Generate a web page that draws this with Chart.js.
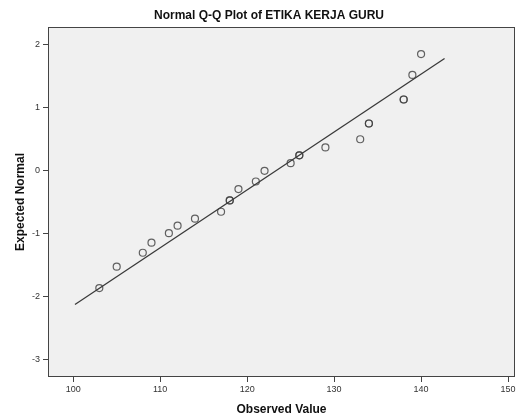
<!DOCTYPE html>
<html>
<head>
<meta charset="utf-8">
<script src="https://cdn.jsdelivr.net/npm/chart.js@4/dist/chart.umd.min.js"></script>
<style>
html,body{margin:0;padding:0;background:#fff;}
#wrap{width:522px;height:417px;}
</style>
</head>
<body>
<div id="wrap"><canvas id="c" width="522" height="417"></canvas></div>
<script>
const chartTitle = "Normal Q-Q Plot of ETIKA KERJA GURU";
const xLabel = "Observed Value";
const yLabel = "Expected Normal";
// observed values (ties repeated)
const observed = [103,105,108,109,111,112,114,117,118,118,119,121,122,125,126,126,129,133,134,134,138,138,139,140];
const expected = [-1.86,-1.52,-1.30,-1.14,-0.99,-0.87,-0.76,-0.65,-0.47,-0.47,-0.29,-0.17,0.00,0.12,0.245,0.245,0.37,0.50,0.75,0.75,1.13,1.13,1.52,1.85];
const lineX = [100.2, 142.7];
const lineY = [-2.12, 1.78];
const xTicks = [100,110,120,130,140,150];
const yTicks = [-3,-2,-1,0,1,2];

const pts = observed.map((v,i)=>({x:v,y:expected[i]}));
const linePts = lineX.map((v,i)=>({x:v,y:lineY[i]}));

const frame = {
  id:'frame',
  beforeDraw(chart){
    const {ctx,chartArea:a}=chart;
    ctx.save();
    ctx.fillStyle='#f0f0f0';
    ctx.fillRect(a.left,a.top,a.right-a.left,a.bottom-a.top);
    ctx.restore();
  },
  afterDraw(chart){
    const {ctx,chartArea:a}=chart;
    ctx.save();
    ctx.strokeStyle='#444';
    ctx.lineWidth=1;
    ctx.strokeRect(a.left+0.5,a.top+0.5,a.right-a.left-1,a.bottom-a.top-1);
    ctx.fillStyle='#111';
    ctx.font='bold 12px "Liberation Sans", Arial, sans-serif';
    ctx.textAlign='center';
    ctx.textBaseline='middle';
    ctx.fillText(chartTitle,269,16);
    ctx.restore();
  }
};

new Chart(document.getElementById('c'),{
  type:'scatter',
  data:{datasets:[
    {type:'line',data:linePts,borderColor:'#3a3a3a',borderWidth:1.3,pointRadius:0,fill:false,order:1},
    {data:pts,pointRadius:3.5,pointBorderColor:'rgba(60,60,60,0.8)',pointBackgroundColor:'rgba(0,0,0,0)',pointBorderWidth:1.2,order:0}
  ]},
  plugins:[frame],
  options:{
    responsive:false,
    animation:false,
    events:[],
    layout:{padding:{top:27,right:7,left:0,bottom:0}},
    plugins:{legend:{display:false},tooltip:{enabled:false},title:{display:false}},
    scales:{
      x:{type:'linear',min:97.1,max:150.8,
        afterBuildTicks(s){s.ticks=xTicks.map(v=>({value:v}));},
        afterFit(s){s.height=40;},
        grid:{drawOnChartArea:false,drawTicks:true,tickLength:5,color:'#444'},
        border:{display:false},
        ticks:{color:'#333',font:{family:'"Liberation Sans", Arial, sans-serif',size:9},padding:2,maxRotation:0},
        title:{display:true,text:xLabel,color:'#111',font:{family:'"Liberation Sans", Arial, sans-serif',size:12,weight:'bold'},padding:{top:5,bottom:0}}
      },
      y:{type:'linear',min:-3.27,max:2.28,
        afterBuildTicks(s){s.ticks=yTicks.map(v=>({value:v}));},
        afterFit(s){s.width=48;},
        grid:{drawOnChartArea:false,drawTicks:true,tickLength:5,color:'#444'},
        border:{display:false},
        ticks:{color:'#333',font:{family:'"Liberation Sans", Arial, sans-serif',size:9},padding:3},
        title:{display:true,text:yLabel,color:'#111',font:{family:'"Liberation Sans", Arial, sans-serif',size:12,weight:'bold'},padding:{top:13,bottom:0}}
      }
    }
  }
});
</script>
</body>
</html>
